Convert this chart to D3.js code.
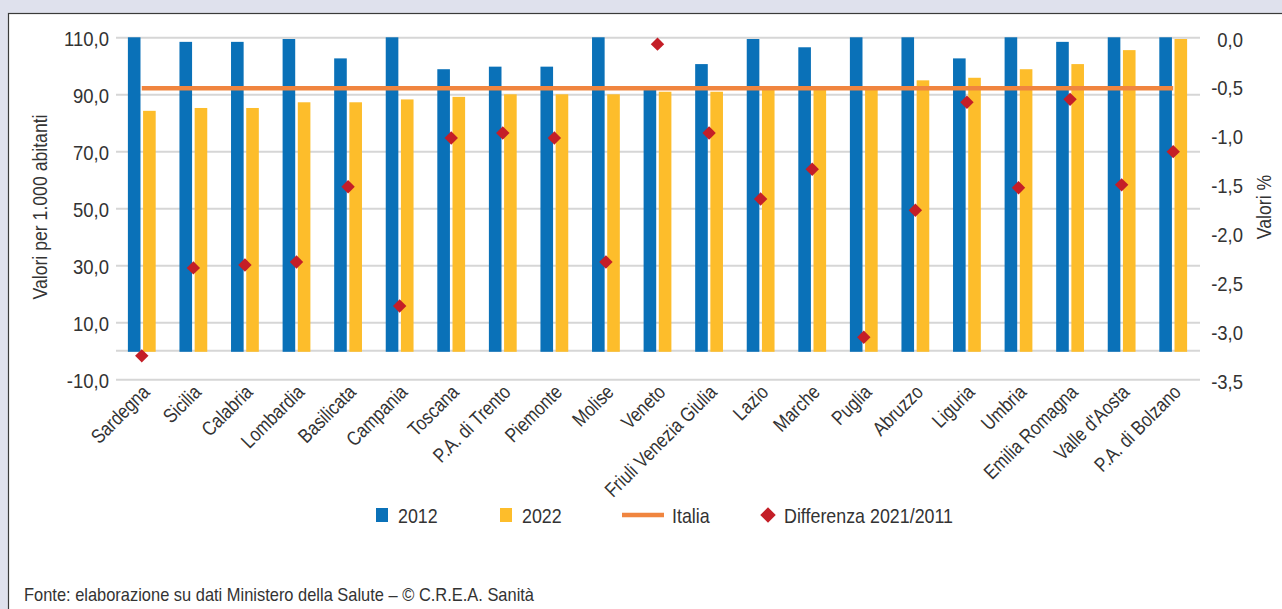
<!DOCTYPE html>
<html>
<head>
<meta charset="utf-8">
<script src="https://cdn.jsdelivr.net/npm/d3@7"></script>
<style>
  html, body { margin: 0; padding: 0; background: #dfe1ed; }
  svg { display: block; }
  text { font-family: "Liberation Sans", Arial, sans-serif; fill: #333; }
</style>
</head>
<body>
<svg id="chart" width="1282" height="609"></svg>
<script>
const categories = ["Sardegna","Sicilia","Calabria","Lombardia","Basilicata","Campania","Toscana","P.A. di Trento","Piemonte","Molise","Veneto","Friuli Venezia Giulia","Lazio","Marche","Puglia","Abruzzo","Liguria","Umbria","Emilia Romagna","Valle d'Aosta","P.A. di Bolzano"];
const values2012 = [110,108.4,108.4,109.4,102.6,110,98.8,99.7,99.7,110,92.5,100.6,109.4,106.5,110,110,102.6,110,108.4,110,110];
const values2022 = [84.2,85.2,85.2,87.2,87.2,88.2,89.1,90.0,90.0,90.0,90.9,90.9,91.8,92.9,92.9,94.9,95.8,98.8,100.6,105.5,109.4];
const valuesItalia = [92.1,92.1,92.1,92.1,92.1,92.1,92.1,92.1,92.1,92.1,92.1,92.1,92.1,92.1,92.1,92.1,92.1,92.1,92.1,92.1,92.1];
const valuesDiff = [-3.26,-2.36,-2.33,-2.30,-1.53,-2.75,-1.03,-0.98,-1.03,-2.30,-0.07,-0.98,-1.655,-1.35,-3.07,-1.77,-0.665,-1.54,-0.635,-1.51,-1.17];
const leftTicks = [110,90,70,50,30,10,-10];
const rightTicks = [0,-0.5,-1,-1.5,-2,-2.5,-3,-3.5];
const seriesNames = ["2012","2022"];
const legendLabels = ["2012","2022","Italia","Differenza 2021/2011"];
const leftTitle = "Valori per 1.000 abitanti";
const rightTitle = "Valori %";
const sourceText = "Fonte: elaborazione su dati Ministero della Salute – © C.R.E.A. Sanità";

const C = { blue: "#0a71b8", yellow: "#fdbd2b", orange: "#f0853f", red: "#c41e27", grid: "#d6d6d6" };
const NARROW = 0.84;
function narrow(sel, ratio) {
  sel.each(function () {
    const w = this.getComputedTextLength();
    d3.select(this).attr("textLength", w * (ratio || NARROW)).attr("lengthAdjust", "spacingAndGlyphs");
  });
}

const svg = d3.select("#chart");
// panel
svg.append("rect").attr("x", 8.5).attr("y", 13.5).attr("width", 1300).attr("height", 700)
  .attr("fill", "#fff").attr("stroke", "#3a3a3a").attr("stroke-width", 1.2);

const plotL = 116, plotR = 1199, plotT = 37.3, plotB = 379.3;
const x = d3.scaleBand().domain(categories).range([plotL, plotR]);
const x1 = d3.scaleBand().domain(seriesNames).range([-13.9, 13.9]).paddingInner(0.17);
const yL = d3.scaleLinear().domain([-10, 110]).range([plotB, plotT]);
const yR = d3.scaleLinear().domain([-3.5, 0]).range([plotB, plotT]);
const fmt = v => d3.format(".1f")(v).replace(".", ",").replace("−", "-");

// gridlines + left axis
const gLeft = svg.append("g").attr("transform", `translate(${plotL},0)`)
  .call(d3.axisLeft(yL).tickValues(leftTicks).tickSize(-(plotR - plotL + 1)).tickPadding(7).tickFormat(fmt));
gLeft.select(".domain").remove();
gLeft.selectAll(".tick line").attr("stroke", C.grid).attr("stroke-width", 2);
gLeft.selectAll(".tick text").attr("font-size", 21).attr("fill", "#333").attr("dy", "0.38em")
  .style("font-family", '"Liberation Sans", Arial, sans-serif').call(narrow, 0.88);
// baseline at 0
svg.append("line").attr("x1", plotL).attr("x2", plotR + 1).attr("y1", yL(0)).attr("y2", yL(0))
  .attr("stroke", C.grid).attr("stroke-width", 2);

// right axis
const gRight = svg.append("g").attr("transform", `translate(1243,0)`)
  .call(d3.axisLeft(yR).tickValues(rightTicks).tickSize(0).tickPadding(0).tickFormat(fmt));
gRight.select(".domain").remove();
gRight.selectAll(".tick text").attr("font-size", 21).attr("fill", "#333").attr("dy", "0.42em")
  .style("font-family", '"Liberation Sans", Arial, sans-serif').call(narrow, 0.88);

// bars
const rows = categories.map((c, i) => ({ c, v: [values2012[i], values2022[i]] }));
const groups = svg.append("g").selectAll("g").data(rows).join("g")
  .attr("transform", d => `translate(${x(d.c) + x.bandwidth() / 2},0)`);
groups.selectAll("rect").data(d => d.v.map((v, k) => ({ k: seriesNames[k], v }))).join("rect")
  .attr("x", d => x1(d.k)).attr("width", x1.bandwidth())
  .attr("y", d => yL(d.v)).attr("height", d => yL(0) - yL(d.v) + 1)
  .attr("fill", d => d.k === "2012" ? C.blue : C.yellow);

// Italia line
const line = d3.line().x((d, i) => x(categories[i]) + x.bandwidth() / 2).y(d => yL(d));
svg.append("path").datum(valuesItalia).attr("d", line)
  .attr("fill", "none").attr("stroke", C.orange).attr("stroke-width", 4.5);

// diamonds
const diamond = d3.symbol().type(d3.symbolSquare).size(90);
svg.append("g").selectAll("path").data(valuesDiff).join("path")
  .attr("d", diamond)
  .attr("transform", (d, i) => `translate(${x(categories[i]) + x.bandwidth() / 2},${yR(d)}) rotate(45)`)
  .attr("fill", C.red);

// category labels
svg.append("g").selectAll("text").data(categories).join("text")
  .attr("transform", d => `translate(${x(d) + x.bandwidth() / 2 + 9},${plotB + 14}) rotate(-45)`)
  .attr("text-anchor", "end").attr("font-size", 20).text(d => d).call(narrow);

// axis titles
svg.append("text").attr("transform", `translate(47,207) rotate(-90)`)
  .attr("text-anchor", "middle").attr("font-size", 21).text(leftTitle).call(narrow);
svg.append("text").attr("transform", `translate(1271,207) rotate(-90)`)
  .attr("text-anchor", "middle").attr("font-size", 21).text(rightTitle).call(narrow);

// legend
const lg = svg.append("g");
const ly = 515;
lg.append("rect").attr("x", 376).attr("y", ly - 7).attr("width", 12).attr("height", 14).attr("fill", C.blue);
lg.append("rect").attr("x", 500).attr("y", ly - 7).attr("width", 12).attr("height", 14).attr("fill", C.yellow);
lg.append("line").attr("x1", 622).attr("x2", 664).attr("y1", ly).attr("y2", ly).attr("stroke", C.orange).attr("stroke-width", 4.5);
lg.append("path").attr("d", d3.symbol().type(d3.symbolSquare).size(120)).attr("transform", `translate(768,${ly}) rotate(45)`).attr("fill", C.red);
const lx = [398, 522, 672, 784];
lg.selectAll("text").data(legendLabels).join("text")
  .attr("x", (d, i) => lx[i]).attr("y", ly).attr("dy", "0.36em").attr("font-size", 21).text(d => d).call(narrow, 0.85);

// source
svg.append("text").attr("x", 24).attr("y", 601).attr("font-size", 19).text(sourceText)
  .attr("textLength", 510).attr("lengthAdjust", "spacingAndGlyphs");
</script>
</body>
</html>
